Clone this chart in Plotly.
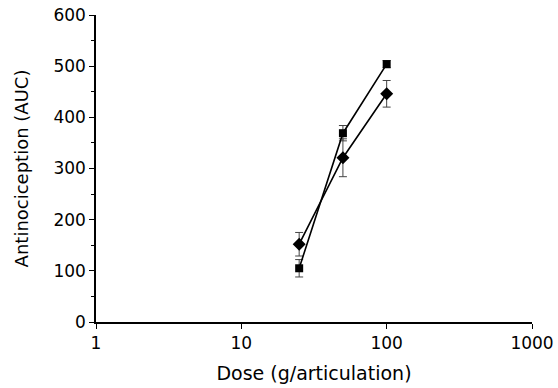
import plotly.graph_objects as go

doses = [25, 50, 100]
square_vals = [105, 369, 504]
square_err = [17, 15, 7]
diamond_vals = [152, 321, 446]
diamond_err = [23, 37, 26]
x_ticks = [1, 10, 100, 1000]
x_tick_labels = ["1", "10", "100", "1000"]

FAM = "DejaVu Sans, sans-serif"
tick_font = dict(family=FAM, size=17, color="#000")
xtitle_font = dict(family=FAM, size=19, color="#000")
ytitle_font = dict(family=FAM, size=18, color="#000")

fig = go.Figure()
fig.add_trace(go.Scatter(
    x=doses, y=diamond_vals, mode="lines+markers",
    line=dict(color="#000", width=1.6),
    marker=dict(symbol="diamond", size=10, color="#000"),
    error_y=dict(type="data", array=diamond_err, color="#444", thickness=1, width=4),
    showlegend=False,
))
fig.add_trace(go.Scatter(
    x=doses, y=square_vals, mode="lines+markers",
    line=dict(color="#000", width=1.6),
    marker=dict(symbol="square", size=8, color="#000"),
    error_y=dict(type="data", array=square_err, color="#444", thickness=1, width=4),
    showlegend=False,
))

fig.update_layout(
    width=558, height=388,
    margin=dict(l=96, r=26, t=15, b=66),
    paper_bgcolor="white", plot_bgcolor="white",
    font=tick_font,
)
fig.update_xaxes(
    type="log", range=[0, 3], automargin=False,
    tickvals=x_ticks, ticktext=x_tick_labels,
    showgrid=False, zeroline=False,
    showline=True, linecolor="#000", linewidth=1.5,
    ticks="outside", ticklen=5, tickwidth=1.2, tickcolor="#000",
    tickfont=tick_font,
    title=dict(text="Dose (g/articulation)", font=xtitle_font, standoff=15),
)
fig.update_yaxes(
    range=[0, 600], dtick=100, automargin=False,
    showgrid=False, zeroline=False,
    showline=True, linecolor="#000", linewidth=1.5,
    ticks="outside", ticklen=5, tickwidth=1.2, tickcolor="#000",
    tickfont=tick_font,
    minor=dict(dtick=50, ticks="outside", ticklen=3, tickcolor="#000", tickwidth=1),
    title=dict(text="Antinociception (AUC)", font=ytitle_font, standoff=20),
)

fig.write_html("out.html")
